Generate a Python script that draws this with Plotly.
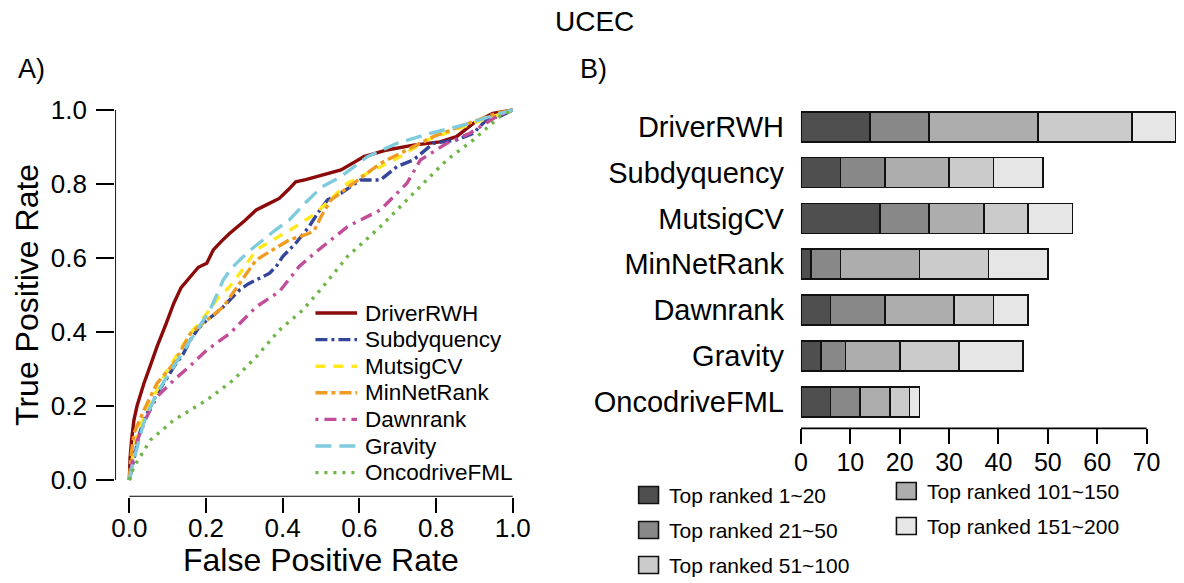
import plotly.graph_objects as go

# The page adds an 8px body margin, so the figure is shifted by 8px; all
# pixel targets below are given in page coordinates (converted by px/py).
PAGE_OFF = 8
W, H = 1184 - PAGE_OFF, 583 - PAGE_OFF
FONT = "Liberation Sans, Arial, Helvetica, sans-serif"

# ---------------- data: ROC curves (panel A) ----------------
methods = ["DriverRWH", "Subdyquency", "MutsigCV", "MinNetRank", "Dawnrank", "Gravity", "OncodriveFML"]

fpr_driverrwh = [0, 0.002, 0.006, 0.012, 0.02, 0.038, 0.055, 0.072, 0.095, 0.116, 0.135, 0.159, 0.18, 0.202, 0.219, 0.24,
                 0.262, 0.3, 0.331, 0.36, 0.391, 0.415, 0.434, 0.46, 0.503, 0.552, 0.612, 0.672, 0.741, 0.81, 0.853, 0.897, 0.948, 1.0]
tpr_driverrwh = [0, 0.06, 0.11, 0.162, 0.2, 0.261, 0.31, 0.36, 0.42, 0.478, 0.52, 0.55, 0.575, 0.586, 0.622, 0.645,
                 0.667, 0.7, 0.73, 0.745, 0.761, 0.785, 0.806, 0.812, 0.824, 0.838, 0.874, 0.892, 0.905, 0.914, 0.928, 0.964, 0.991, 1.0]

fpr_subdyquency = [0, 0.012, 0.025, 0.038, 0.055, 0.072, 0.095, 0.116, 0.14, 0.159, 0.18, 0.202, 0.225, 0.245, 0.265, 0.288,
                   0.31, 0.331, 0.366, 0.385, 0.4, 0.434, 0.469, 0.491, 0.517, 0.552, 0.603, 0.655, 0.698, 0.741, 0.793, 0.853,
                   0.897, 0.931, 0.97, 1.0]
tpr_subdyquency = [0, 0.063, 0.12, 0.162, 0.2, 0.234, 0.27, 0.306, 0.34, 0.378, 0.41, 0.432, 0.45, 0.468, 0.49, 0.514,
                   0.53, 0.541, 0.559, 0.58, 0.604, 0.64, 0.685, 0.721, 0.757, 0.775, 0.811, 0.811, 0.847, 0.865, 0.91, 0.919,
                   0.937, 0.973, 0.985, 1.0]

fpr_mutsigcv = [0, 0.008, 0.021, 0.045, 0.072, 0.095, 0.116, 0.159, 0.202, 0.23, 0.262, 0.3, 0.331, 0.374, 0.434, 0.486,
                0.569, 0.638, 0.707, 0.776, 0.871, 0.94, 1.0]
tpr_mutsigcv = [0, 0.06, 0.126, 0.19, 0.243, 0.29, 0.324, 0.396, 0.45, 0.49, 0.523, 0.575, 0.622, 0.649, 0.685, 0.721,
                0.802, 0.838, 0.874, 0.919, 0.955, 0.98, 1.0]

fpr_minnetrank = [0, 0.005, 0.012, 0.038, 0.072, 0.116, 0.159, 0.202, 0.245, 0.288, 0.331, 0.374, 0.417, 0.45, 0.469, 0.483,
                  0.5, 0.526, 0.595, 0.655, 0.724, 0.793, 0.871, 0.957, 1.0]
tpr_minnetrank = [0, 0.07, 0.126, 0.189, 0.261, 0.315, 0.396, 0.432, 0.468, 0.532, 0.595, 0.622, 0.649, 0.66, 0.667, 0.676,
                  0.712, 0.757, 0.811, 0.856, 0.892, 0.928, 0.959, 0.991, 1.0]

fpr_dawnrank = [0, 0.008, 0.021, 0.045, 0.072, 0.116, 0.16, 0.202, 0.262, 0.331, 0.391, 0.443, 0.483, 0.52, 0.569, 0.655,
                0.724, 0.759, 0.828, 0.888, 0.957, 1.0]
tpr_dawnrank = [0, 0.05, 0.108, 0.17, 0.225, 0.27, 0.31, 0.351, 0.396, 0.468, 0.509, 0.577, 0.613, 0.645, 0.685, 0.73,
                0.802, 0.865, 0.91, 0.937, 0.982, 1.0]

fpr_gravity = [0, 0.01, 0.021, 0.036, 0.055, 0.075, 0.098, 0.13, 0.159, 0.185, 0.21, 0.228, 0.245, 0.265, 0.288, 0.32,
               0.348, 0.38, 0.417, 0.46, 0.503, 0.552, 0.621, 0.698, 0.785, 0.871, 0.94, 1.0]
tpr_gravity = [0, 0.05, 0.09, 0.15, 0.198, 0.24, 0.279, 0.33, 0.378, 0.42, 0.459, 0.5, 0.541, 0.57, 0.595, 0.625,
               0.649, 0.675, 0.703, 0.75, 0.793, 0.82, 0.874, 0.91, 0.937, 0.959, 0.982, 1.0]

fpr_oncodrivefml = [0, 0.012, 0.055, 0.116, 0.202, 0.271, 0.331, 0.391, 0.452, 0.503, 0.569, 0.655, 0.741, 0.828, 0.897, 0.966, 1.0]
tpr_oncodrivefml = [0, 0.036, 0.108, 0.162, 0.216, 0.27, 0.333, 0.405, 0.459, 0.52, 0.604, 0.685, 0.775, 0.865, 0.919, 0.982, 1.0]

roc_fpr = [fpr_driverrwh, fpr_subdyquency, fpr_mutsigcv, fpr_minnetrank, fpr_dawnrank, fpr_gravity, fpr_oncodrivefml]
roc_tpr = [tpr_driverrwh, tpr_subdyquency, tpr_mutsigcv, tpr_minnetrank, tpr_dawnrank, tpr_gravity, tpr_oncodrivefml]

roc_colors = ["#8B0A0A", "#34459A", "#FFE81F", "#EE9C22", "#C24D98", "#7FCBDE", "#6DB645"]
roc_dashes = ["solid", "12px,4px,3px,4px", "10px,8px", "12px,4px,4px,4px", "3px,6px,12px,6px", "16px,8px", "3px,6px"]

roc_ticks = [0, 0.2, 0.4, 0.6, 0.8, 1.0]
roc_ticklabels = ["0.0", "0.2", "0.4", "0.6", "0.8", "1.0"]

# ---------------- data: stacked bars (panel B) ----------------
rank_groups = ["Top ranked 1~20", "Top ranked 21~50", "Top ranked 51~100", "Top ranked 101~150", "Top ranked 151~200"]
seg_1_20 = [14, 8, 16, 2, 6, 4, 6]
seg_21_50 = [12, 9, 10, 6, 11, 5, 6]
seg_51_100 = [22, 13, 11, 16, 14, 11, 6]
seg_101_150 = [19, 9, 9, 14, 8, 12, 4]
seg_151_200 = [9, 10, 9, 12, 7, 13, 2]
segments = [seg_1_20, seg_21_50, seg_51_100, seg_101_150, seg_151_200]
bar_colors = ["#4f4f4f", "#888888", "#adadad", "#cbcbcb", "#e6e6e6"]
legend_colors = ["#4f4f4f", "#888888", "#cbcbcb", "#adadad", "#e6e6e6"]
bar_ticks = [0, 10, 20, 30, 40, 50, 60, 70]


def px(x):
    return (x - PAGE_OFF) / W


def py(y):
    return 1 - (y - PAGE_OFF) / H


fig = go.Figure()

# ROC curves
for name, xs, ys, c, d in zip(methods, roc_fpr, roc_tpr, roc_colors, roc_dashes):
    fig.add_trace(go.Scatter(x=xs, y=ys, mode="lines", name=name, showlegend=False,
                             line=dict(color=c, width=3.4, dash=d), xaxis="x", yaxis="y"))

# Stacked bars
for gname, vals, c in zip(rank_groups, segments, bar_colors):
    fig.add_trace(go.Bar(x=vals, y=methods, orientation="h", name=gname, showlegend=False,
                         marker=dict(color=c, line=dict(color="#111111", width=1.7)),
                         width=0.655, xaxis="x2", yaxis="y2"))

shapes = []
annotations = []

# axis lines (R style, detached)
shapes.append(dict(type="line", xref="x", yref="y", x0=-0.037, x1=-0.037, y0=0, y1=1,
                   line=dict(color="black", width=1.8)))
shapes.append(dict(type="line", xref="x", yref="y", x0=0, x1=1, y0=-0.045, y1=-0.045,
                   line=dict(color="black", width=1.8)))
shapes.append(dict(type="line", xref="x2", yref="y2 domain", x0=0, x1=70, y0=0, y1=0,
                   line=dict(color="black", width=1.8)))

# ROC legend (manual)
leg_y0, leg_dy = 313, 26.6
for i, (name, c, d) in enumerate(zip(methods, roc_colors, roc_dashes)):
    yy = leg_y0 + i * leg_dy
    shapes.append(dict(type="line", xref="paper", yref="paper", x0=px(311), x1=px(353), y0=py(yy), y1=py(yy),
                       line=dict(color=c, width=3.4, dash=d)))
    annotations.append(dict(text=name, xref="paper", yref="paper", x=px(359), y=py(yy), xanchor="left",
                            yanchor="middle", showarrow=False, font=dict(size=22.5, color="black", family=FONT)))

# Bar legend (manual, two columns)
leg_pos = [(637, 495), (637, 530), (637, 565), (897, 491), (897, 526)]
for (lx, ly), gname, c in zip(leg_pos, rank_groups, legend_colors):
    shapes.append(dict(type="rect", xref="paper", yref="paper", x0=px(lx), x1=px(lx + 20), y0=py(ly - 8.5), y1=py(ly + 8.5),
                       fillcolor=c, line=dict(color="#111111", width=1.6)))
    annotations.append(dict(text=gname, xref="paper", yref="paper", x=px(lx + 29), y=py(ly), xanchor="left",
                            yanchor="middle", showarrow=False, font=dict(size=21, color="black", family=FONT)))

# titles / labels
annotations += [
    dict(text="UCEC", xref="paper", yref="paper", x=px(592), y=py(22), xanchor="center", yanchor="middle",
         showarrow=False, font=dict(size=28, color="black", family=FONT)),
    dict(text="A)", xref="paper", yref="paper", x=px(9), y=py(69), xanchor="left", yanchor="middle",
         showarrow=False, font=dict(size=27, color="black", family=FONT)),
    dict(text="B)", xref="paper", yref="paper", x=px(576), y=py(69), xanchor="left", yanchor="middle",
         showarrow=False, font=dict(size=27, color="black", family=FONT)),
    dict(text="True Positive Rate", xref="paper", yref="paper", x=px(20), y=py(295), xanchor="center",
         yanchor="middle", textangle=-90, showarrow=False, font=dict(size=32, color="black", family=FONT)),
    dict(text="False Positive Rate", xref="paper", yref="paper", x=px(316.5), y=py(560), xanchor="center",
         yanchor="middle", showarrow=False, font=dict(size=32, color="black", family=FONT)),
]

fig.update_layout(
    width=W, height=H, autosize=False,
    margin=dict(l=0, r=0, t=0, b=0),
    paper_bgcolor="white", plot_bgcolor="white",
    font=dict(family=FONT, color="black"),
    barmode="stack",
    shapes=shapes, annotations=annotations,
    xaxis=dict(domain=[px(109), px(525.5)], range=[-0.037, 1.04], anchor="y",
               tickvals=roc_ticks, ticktext=roc_ticklabels, ticks="outside", ticklen=15, tickwidth=1.8,
               tickcolor="black", showline=False, showgrid=False, zeroline=False, ticklabelstandoff=-7,
               tickfont=dict(size=26, family=FONT, color="black")),
    yaxis=dict(domain=[py(496.7), py(95.2)], range=[-0.045, 1.04], anchor="x",
               tickvals=roc_ticks, ticktext=roc_ticklabels, ticks="outside", ticklen=18, tickwidth=1.8,
               tickcolor="black", showline=False, showgrid=False, zeroline=False, ticklabelstandoff=4,
               tickfont=dict(size=26, family=FONT, color="black")),
    xaxis2=dict(domain=[px(800.7), px(1180.7)], range=[0, 76.3], anchor="y2",
                tickvals=bar_ticks, ticks="outside", ticklen=15, tickwidth=1.8, tickcolor="black",
                showline=False, showgrid=False, zeroline=False, ticklabelstandoff=-3,
                tickfont=dict(size=25, family=FONT, color="black")),
    yaxis2=dict(domain=[py(428.3), py(103.8)], range=[6.58, -0.5], anchor="x2", type="category",
                categoryorder="array", categoryarray=methods, ticks="", ticklabelstandoff=16,
                showline=False, showgrid=False, zeroline=False,
                tickfont=dict(size=29, family=FONT, color="black")),
)

fig.write_html("out.html")
